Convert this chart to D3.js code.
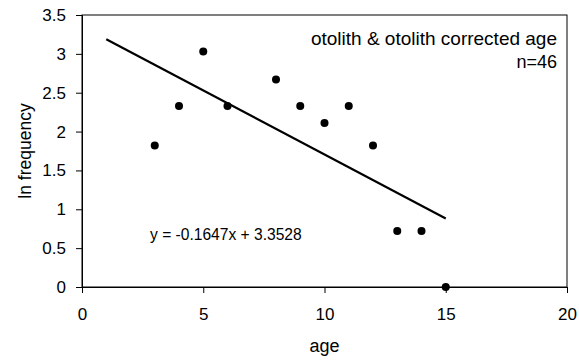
<!DOCTYPE html>
<html>
<head>
<meta charset="utf-8">
<script src="https://cdn.jsdelivr.net/npm/d3@7"></script>
<style>
  html, body { margin: 0; padding: 0; background: #fff; }
  svg { display: block; font-family: "Liberation Sans", Arial, sans-serif; }
</style>
</head>
<body>
<svg id="chart" width="579" height="362"></svg>
<script>
// Age classes and their log frequencies
const ages = [3, 4, 5, 6, 8, 9, 10, 11, 12, 13, 14, 15];
const lnFreq = [1.82, 2.33, 3.03, 2.33, 2.67, 2.33, 2.11, 2.33, 1.82, 0.72, 0.72, 0];

// Fitted linear trend
const slope = -0.1647;
const intercept = 3.3528;
const trendRange = [1, 15];

const xTicks = [0, 5, 10, 15, 20];
const yTicks = [0, 0.5, 1, 1.5, 2, 2.5, 3, 3.5];

const svg = d3.select("#chart");
const m = { left: 82, right: 12, top: 15, bottom: 75 };
const W = 579, H = 362;

const x = d3.scaleLinear().domain([0, 20]).range([m.left, W - m.right]);
const y = d3.scaleLinear().domain([0, 3.5]).range([H - m.bottom, m.top]);

// Plot frame
svg.append("rect")
  .attr("x", x(0)).attr("y", y(3.5))
  .attr("width", x(20) - x(0)).attr("height", y(0) - y(3.5))
  .attr("fill", "none").attr("stroke", "#000").attr("stroke-width", 1);

const xAxis = svg.append("g")
  .attr("transform", `translate(0,${y(0)})`)
  .call(d3.axisBottom(x).tickValues(xTicks).tickFormat(d3.format("d")).tickSize(6).tickPadding(15));

const yAxis = svg.append("g")
  .attr("transform", `translate(${x(0)},0)`)
  .call(d3.axisLeft(y).tickValues(yTicks).tickFormat(d => String(d)).tickSize(6).tickPadding(10));

[xAxis, yAxis].forEach(g => {
  g.select(".domain").attr("stroke", "#000");
  g.selectAll(".tick line").attr("stroke", "#000");
  g.selectAll(".tick text").attr("fill", "#000")
    .style("font-family", '"Liberation Sans", Arial, sans-serif')
    .style("font-size", "17px");
});

// Trend line
svg.append("line")
  .attr("x1", x(trendRange[0])).attr("y1", y(intercept + slope * trendRange[0]))
  .attr("x2", x(trendRange[1])).attr("y2", y(intercept + slope * trendRange[1]))
  .attr("stroke", "#000").attr("stroke-width", 2.2);

// Observations
svg.append("g").selectAll("circle")
  .data(ages.map((a, i) => ({ a, v: lnFreq[i] })))
  .join("circle")
  .attr("cx", d => x(d.a)).attr("cy", d => y(d.v))
  .attr("r", 4).attr("fill", "#000");

// Axis titles
svg.append("text")
  .attr("x", x(10)).attr("y", 352)
  .attr("text-anchor", "middle").style("font-size", "18px")
  .text("age");

svg.append("text")
  .attr("transform", `translate(31,${(y(0) + y(3.5)) / 2}) rotate(-90)`)
  .attr("text-anchor", "middle").style("font-size", "17.5px")
  .text("ln frequency");

// Annotations
svg.append("text")
  .attr("x", 557).attr("y", 45)
  .attr("text-anchor", "end").style("font-size", "19px")
  .text("otolith & otolith corrected age");
svg.append("text")
  .attr("x", 557).attr("y", 68)
  .attr("text-anchor", "end").style("font-size", "18px")
  .text("n=46");

svg.append("text")
  .attr("x", 150).attr("y", 240)
  .style("font-size", "15.6px")
  .text(`y = ${slope}x + ${intercept}`);
</script>
</body>
</html>
